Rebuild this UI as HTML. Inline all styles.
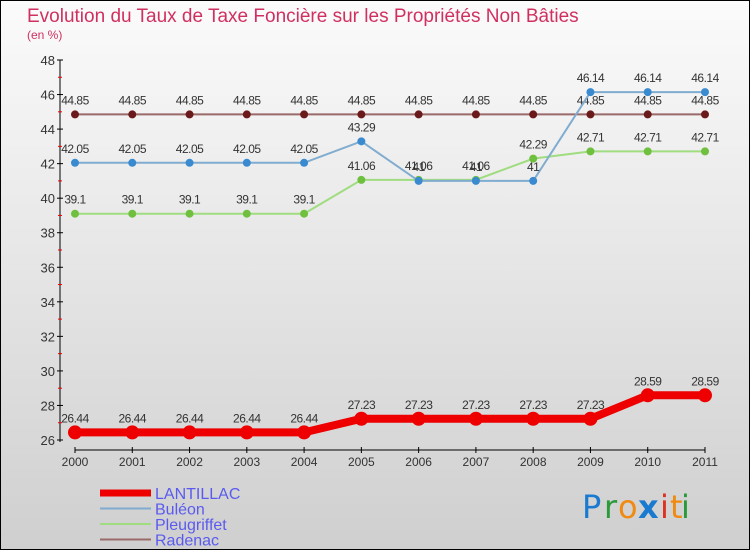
<!DOCTYPE html>
<html><head><meta charset="utf-8"><style>
body{margin:0}
#c{width:750px;height:550px;position:relative;font-family:"Liberation Sans",sans-serif}
</style></head><body>
<div id="c">
<svg id="s" width="750" height="550" xmlns="http://www.w3.org/2000/svg">
<defs><linearGradient id="bg" x1="0" y1="0" x2="0" y2="1"><stop offset="0" stop-color="#fbfbfb"/><stop offset="1" stop-color="#cfcfcf"/></linearGradient></defs>
<rect x="0.5" y="0.5" width="749" height="549" fill="url(#bg)" stroke="#000"/>
<text x="27" y="22" font-size="19" fill="#d03060">Evolution du Taux de Taxe Foncière sur les Propriétés Non Bâties</text>
<text x="27" y="39" font-size="12" fill="#d03060">(en %)</text>
<g id="axes"></g><g id="series"></g><g id="legend"></g>
<g font-size="32" font-family="'DejaVu Sans',sans-serif">
<text x="582" y="518" fill="#1a7ad0">P</text><text x="604" y="518" fill="#2a9a3a">r</text><text x="618" y="518" fill="#f08a10">o</text><text x="638" y="518" fill="#1a7ad0" font-weight="bold">x</text><text x="660" y="518" fill="#e03020">i</text><text x="670" y="518" fill="#f08a10">t</text><text x="681" y="518" fill="#2a9a3a">i</text></g>
</svg></div>
<script>
const years=["2000","2001","2002","2003","2004","2005","2006","2007","2008","2009","2010","2011"];
const lantillac=[26.44,26.44,26.44,26.44,26.44,27.23,27.23,27.23,27.23,27.23,28.59,28.59];
const buleon=[42.05,42.05,42.05,42.05,42.05,43.29,41,41,41,46.14,46.14,46.14];
const pleugriffet=[39.1,39.1,39.1,39.1,39.1,41.06,41.06,41.06,42.29,42.71,42.71,42.71];
const radenac=[44.85,44.85,44.85,44.85,44.85,44.85,44.85,44.85,44.85,44.85,44.85,44.85];
const yTicks=[26,28,30,32,34,36,38,40,42,44,46,48];
const NS="http://www.w3.org/2000/svg";
const X=i=>75+i*(630/11);
const Y=v=>440-(v-26)*(380/22);
function mk(p,t,a){const e=document.createElementNS(NS,t);for(const k in a)e.setAttribute(k,a[k]);p.appendChild(e);return e;}
const ax=document.getElementById('axes');
let yl=mk(ax,'line',{x1:60,y1:Y(48),x2:60,y2:Y(26)+2,stroke:'#000'});

yTicks.forEach(v=>{mk(ax,'line',{x1:57,x2:63,y1:Y(v),y2:Y(v),stroke:'#000'});
 if(v<48)mk(ax,'line',{x1:58,x2:62,y1:Y(v+1),y2:Y(v+1),stroke:'#e00'});
 const t=mk(ax,'text',{x:55,y:Y(v)+5,'text-anchor':'end','font-size':13,fill:'#333'});t.textContent=v;
 });
let xl=mk(ax,'line',{x1:X(0),y1:450,x2:X(11),y2:450,stroke:'#000'});

years.forEach((y,i)=>{mk(ax,'line',{x1:X(i),x2:X(i),y1:447,y2:453,stroke:'#000'});
 const t=mk(ax,'text',{x:X(i),y:466,'text-anchor':'middle','font-size':12,fill:'#333'});t.textContent=y;
 });
const sg=document.getElementById('series');
function series(name,d,col,dot,w,r){
 const g=mk(sg,'g',{});
 mk(g,'polyline',{points:d.map((v,i)=>X(i)+','+Y(v)).join(' '),fill:'none',stroke:col,'stroke-width':w});
 d.forEach((v,i)=>{const c=mk(g,'circle',{cx:X(i),cy:Y(v),r:r,fill:dot});
  
  const t=mk(g,'text',{x:X(i),y:Y(v)-10,'text-anchor':'middle','font-size':12,fill:'#333','letter-spacing':'-0.5'});t.textContent=v;
  });
}
series('radenac',radenac,'#9a6a6a','#6a1a1a',2,4);
series('pleugriffet',pleugriffet,'#a0dc80','#70c040',2,4);
series('buleon',buleon,'#80acd0','#3a8ad0',2,4);
series('lantillac',lantillac,'#ee0000','#ee0000',8,7);
const lg=document.getElementById('legend');
[['LANTILLAC','#ee0000',7],['Buléon','#80acd0',2],['Pleugriffet','#a0dc80',2],['Radenac','#9a6a6a',2]].forEach((e,i)=>{
 const y=493+i*15.5;
 const g=mk(lg,'g',{});
 mk(g,'line',{x1:100,x2:151,y1:y,y2:y,stroke:e[1],'stroke-width':e[2]});
 const t=mk(g,'text',{x:155,y:y+6,'font-size':16,fill:'#5a5af0'});t.textContent=e[0];
});
</script>
</body></html>
